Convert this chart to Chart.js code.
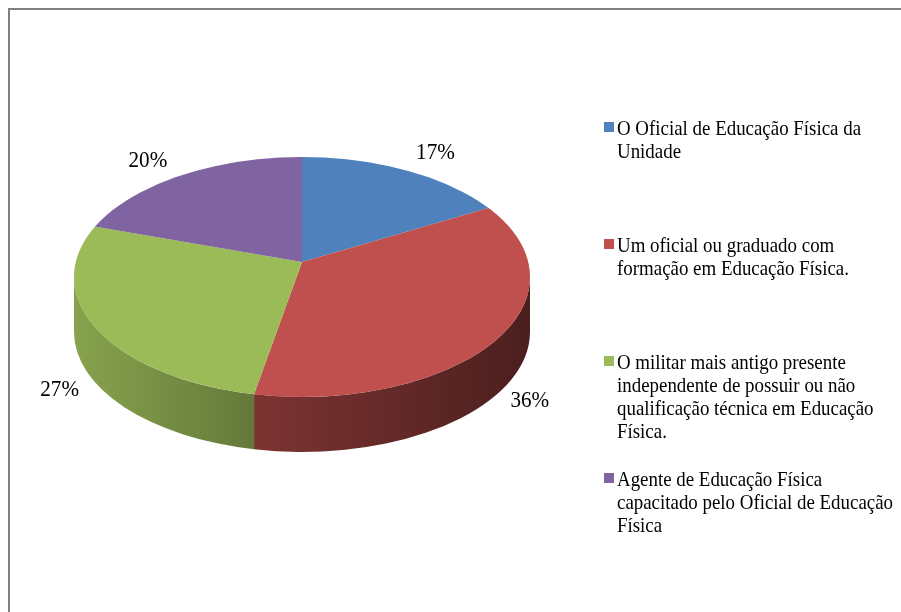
<!DOCTYPE html>
<html>
<head>
<meta charset="utf-8">
<script src="https://cdn.jsdelivr.net/npm/chart.js@4.4.0/dist/chart.umd.min.js"></script>
<style>
  html, body { margin: 0; padding: 0; background: #ffffff; }
  #wrap { width: 901px; height: 612px; position: relative; }
</style>
</head>
<body>
<div id="wrap"><canvas id="c" width="901" height="612"></canvas></div>
<script>
// ---- data ----
const categories = [
  ["O Oficial de Educação Física da", "Unidade"],
  ["Um oficial ou graduado com", "formação em Educação Física."],
  ["O militar mais antigo presente", "independente de possuir ou não", "qualificação técnica em Educação", "Física."],
  ["Agente de Educação Física", "capacitado pelo Oficial de Educação", "Física"]
];
const values = [17, 36, 27, 20];
const colors = ["#4F81BD", "#C0504D", "#9BBB59", "#8064A2"];

// ---- layout (styling only) ----
const PIE = { cx: 302, cy: 277, rx: 228, ry: 120, depth: 55, ax: 302, ay: 262 };
const LEGEND = { x: 604, textX: 617, firstY: 129, slot: 117, lineH: 23.3, box: 10, font: 21, squeeze: 0.9 };

function shade(hex, f) {
  const n = parseInt(hex.slice(1), 16);
  const r = Math.round(((n >> 16) & 255) * f);
  const g = Math.round(((n >> 8) & 255) * f);
  const b = Math.round((n & 255) * f);
  return `rgb(${r},${g},${b})`;
}

// parametric rim angle hit by a ray from the apex in direction of arc angle a
function rimAngle(a) {
  const { cx, cy, rx, ry, ax, ay } = PIE;
  const dx = rx * Math.cos(a), dy = ry * Math.sin(a);
  const ox = ax - cx, oy = ay - cy;
  const A = (dx / rx) ** 2 + (dy / ry) ** 2;
  const B = 2 * (ox * dx / (rx * rx) + oy * dy / (ry * ry));
  const C = (ox / rx) ** 2 + (oy / ry) ** 2 - 1;
  const t = (-B + Math.sqrt(B * B - 4 * A * C)) / (2 * A);
  const px = ox + dx * t, py = oy + dy * t;
  let phi = Math.atan2(py / ry, px / rx);
  while (phi - a > Math.PI) phi -= 2 * Math.PI;
  while (a - phi > Math.PI) phi += 2 * Math.PI;
  return phi;
}

const pie3d = {
  id: 'pie3d',
  beforeDraw(chart) {
    const ctx = chart.ctx;
    ctx.save();
    ctx.fillStyle = '#ffffff';
    ctx.fillRect(0, 0, chart.width, chart.height);
    ctx.strokeStyle = '#808080';
    ctx.lineWidth = 2;
    ctx.beginPath();
    ctx.moveTo(9, chart.height);
    ctx.lineTo(9, 9);
    ctx.lineTo(chart.width, 9);
    ctx.stroke();
    ctx.restore();
  },
  beforeDatasetsDraw(chart) {
    const ctx = chart.ctx;
    const arcs = chart.getDatasetMeta(0).data;
    const { cx, cy, rx, ry, depth, ax, ay } = PIE;
    // front side walls
    arcs.forEach((arc, i) => {
      const p = arc.getProps(['startAngle', 'endAngle'], true);
      const a0 = Math.max(rimAngle(p.startAngle), 0);
      const a1 = Math.min(rimAngle(p.endAngle), Math.PI);
      if (a1 <= a0) return;
      const base = colors[i];
      const grad = ctx.createLinearGradient(cx - rx, 0, cx + rx, 0);
      grad.addColorStop(0, shade(base, 0.87));
      grad.addColorStop(0.386, shade(base, 0.65));
      grad.addColorStop(1, shade(base, 0.39));
      ctx.save();
      ctx.beginPath();
      ctx.ellipse(cx, cy, rx, ry, 0, a0, a1, false);
      ctx.lineTo(cx + rx * Math.cos(a1), cy + depth + ry * Math.sin(a1));
      ctx.ellipse(cx, cy + depth, rx, ry, 0, a1, a0, true);
      ctx.closePath();
      ctx.fillStyle = grad;
      ctx.fill();
      ctx.restore();
    });
    // squash library arcs into the top ellipse, apex shifted for perspective
    const a = arcs[0].getProps(['x', 'y', 'outerRadius'], true);
    const k = 1.3;
    ctx.save();
    ctx.beginPath();
    ctx.ellipse(cx, cy, rx, ry, 0, 0, Math.PI * 2);
    ctx.clip();
    ctx.translate(ax, ay);
    ctx.scale(k * rx / a.outerRadius, k * ry / a.outerRadius);
    ctx.translate(-a.x, -a.y);
  },
  afterDatasetsDraw(chart) {
    const ctx = chart.ctx;
    ctx.restore();
    const arcs = chart.getDatasetMeta(0).data;
    const { cx, cy, rx, ry, depth } = PIE;
    ctx.save();
    ctx.fillStyle = '#000000';
    ctx.font = '23px "Liberation Serif", "Times New Roman", serif';
    ctx.textAlign = 'center';
    ctx.textBaseline = 'middle';
    arcs.forEach((arc, i) => {
      const p = arc.getProps(['startAngle', 'endAngle'], true);
      const m = (p.startAngle + p.endAngle) / 2;
      const front = Math.sin(m) > 0;
      const x = cx + rx * Math.cos(m) * (front ? 1.235 : 1.15);
      let y = cy + ry * Math.sin(m) * 1.2;
      if (front) y += depth * 0.72;
      ctx.save();
      ctx.translate(x, y);
      ctx.scale(0.92, 1);
      ctx.fillText(values[i] + '%', 0, 0);
      ctx.restore();
    });
    ctx.restore();

    // legend
    ctx.save();
    ctx.font = LEGEND.font + 'px "Liberation Serif", "Times New Roman", serif';
    ctx.textBaseline = 'middle';
    ctx.textAlign = 'left';
    categories.forEach((lines, i) => {
      const y0 = LEGEND.firstY + LEGEND.slot * i;
      ctx.fillStyle = colors[i];
      ctx.fillRect(LEGEND.x, y0 - 7, LEGEND.box, LEGEND.box);
      ctx.fillStyle = '#000000';
      lines.forEach((t, j) => {
        ctx.save();
        ctx.translate(LEGEND.textX, y0 + j * LEGEND.lineH);
        ctx.scale(LEGEND.squeeze, 1);
        ctx.fillText(t, 0, 0);
        ctx.restore();
      });
    });
    ctx.restore();
  }
};

new Chart(document.getElementById('c'), {
  type: 'pie',
  data: {
    labels: categories,
    datasets: [{
      data: values,
      backgroundColor: colors,
      borderColor: colors,
      borderWidth: 0,
      hoverOffset: 0
    }]
  },
  options: {
    responsive: false,
    animation: false,
    events: [],
    layout: { padding: 20 },
    plugins: {
      legend: { display: false },
      tooltip: { enabled: false }
    }
  },
  plugins: [pie3d]
});
</script>
</body>
</html>
